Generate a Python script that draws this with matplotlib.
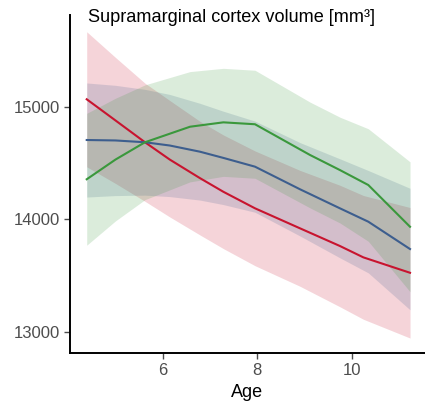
import matplotlib
matplotlib.use("Agg")
import matplotlib.pyplot as plt

plt.rcParams['font.family'] = ['Liberation Sans', 'DejaVu Sans']

# Red series
red_age   = [4.392, 5.0, 5.625, 6.15, 6.789, 7.283, 7.953, 8.906, 9.75, 10.246, 11.234]
red_mean  = [15066, 14878, 14684, 14530, 14365, 14244, 14097, 13919, 13762, 13661, 13524]
red_lower = [14466, 14318, 14159, 14020, 13860, 13739, 13587, 13404, 13222, 13111, 12944]
red_upper = [15666, 15438, 15209, 15055, 14870, 14749, 14607, 14434, 14302, 14211, 14104]

# Blue series
blue_age   = [4.392, 5.0, 5.625, 6.15, 6.789, 7.283, 7.953, 8.906, 9.75, 10.351, 11.234]
blue_mean  = [14704, 14700, 14684, 14655, 14600, 14545, 14467, 14266, 14097, 13978, 13735]
blue_lower = [14197, 14210, 14214, 14201, 14170, 14130, 14062, 13851, 13657, 13523, 13195]
blue_upper = [15211, 15190, 15154, 15109, 15030, 14960, 14872, 14681, 14537, 14433, 14275]

# Green series
green_age   = [4.392, 5.0, 5.625, 6.578, 7.283, 7.953, 9.117, 9.75, 10.351, 11.234]
green_mean  = [14355, 14530, 14684, 14822, 14861, 14844, 14571, 14437, 14304, 13933]
green_lower = [13769, 13985, 14174, 14332, 14381, 14364, 14101, 13967, 13804, 13356]
green_upper = [14941, 15075, 15194, 15312, 15341, 15324, 15041, 14907, 14804, 14510]

x_ticks = [6, 8, 10]
y_ticks = [13000, 14000, 15000]

RED = "#C8142F"
BLUE = "#3D5E8E"
GREEN = "#3A983C"

fig = plt.figure(figsize=(4.25, 4.09), dpi=100)
ax = fig.add_axes([70/425, (409-353)/409, (425-70)/425, (353-15)/409])

series = [
    (red_age, red_mean, red_lower, red_upper, RED),
    (blue_age, blue_mean, blue_lower, blue_upper, BLUE),
    (green_age, green_mean, green_lower, green_upper, GREEN),
]
for age, mean, lo, up, col in series:
    ax.fill_between(age, lo, up, color=col, alpha=0.18, linewidth=0)
for age, mean, lo, up, col in series:
    ax.plot(age, mean, color=col, lw=1.5)

ax.set_xlim(4.038, 11.551)
ax.set_ylim(12811, 15815)
ax.set_xticks(x_ticks)
ax.set_yticks(y_ticks)
ax.tick_params(axis='both', labelsize=12, colors="#4D4D4D", length=4, width=1)
for s in ['top', 'right']:
    ax.spines[s].set_visible(False)
for s in ['left', 'bottom']:
    ax.spines[s].set_linewidth(1.4)
    ax.spines[s].set_color("black")
ax.set_xlabel("Age", fontsize=13, color="black", labelpad=4)

fig.text(88/425, 1 - 17/409, "Supramarginal cortex volume [mm³]", fontsize=13.1,
         ha='left', va='center', color="black")

fig.savefig("out.png", dpi=100)
